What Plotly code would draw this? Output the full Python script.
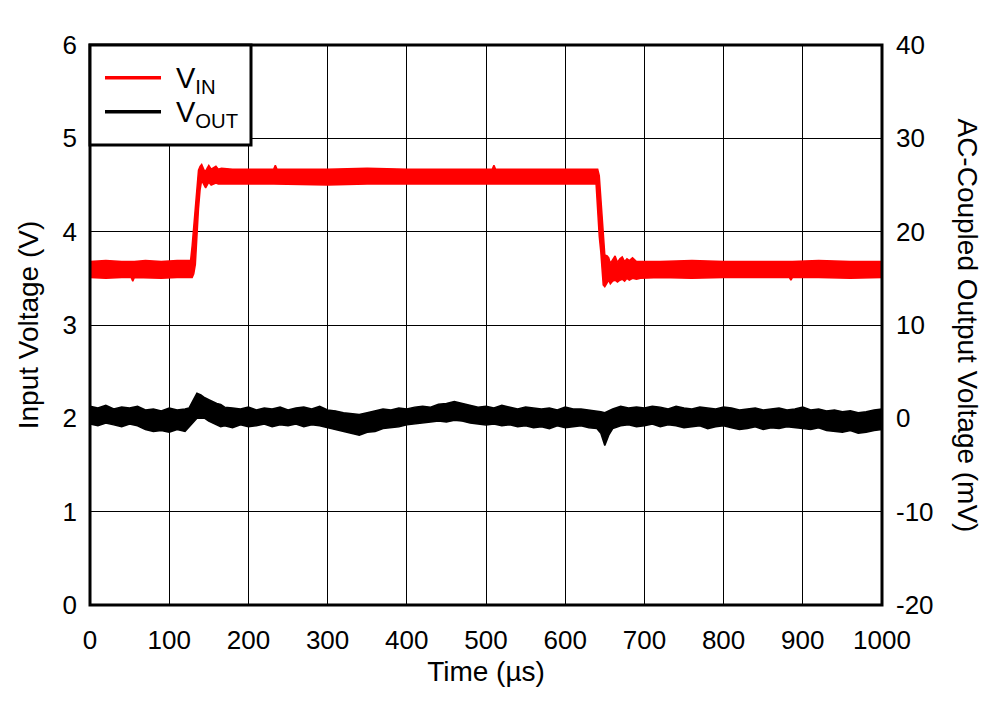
import plotly.graph_objects as go

# ---------------- data ----------------
# Input voltage (V): envelope of the noisy trace
vin_t = [0, 20, 40, 52, 54, 56, 70, 90, 110, 127, 129, 131, 133, 135, 137, 139, 141,
         144, 146, 148, 150, 153, 156, 159, 162, 166, 180, 200, 232, 234, 236, 260,
         300, 350, 400, 450, 508, 510, 512, 560, 600, 639, 641, 643, 645, 647, 648,
         650, 653, 655, 657, 660, 663, 666, 669, 672, 675, 678, 681, 685, 690, 695,
         720, 760, 800, 850, 883, 885, 887, 920, 960, 1000]
vin_hi = [3.68, 3.69, 3.68, 3.68, 3.68, 3.68, 3.69, 3.68, 3.69, 3.69, 3.85, 4.05, 4.30, 4.50, 4.66, 4.70, 4.72,
          4.66, 4.65, 4.68, 4.71, 4.67, 4.69, 4.70, 4.67, 4.68, 4.67, 4.67, 4.67, 4.71, 4.67, 4.67,
          4.67, 4.68, 4.67, 4.67, 4.67, 4.71, 4.67, 4.67, 4.67, 4.67, 4.67, 4.60, 4.35, 4.05, 3.90,
          3.75, 3.74, 3.72, 3.66, 3.70, 3.74, 3.67, 3.71, 3.73, 3.68, 3.71, 3.69, 3.72, 3.68, 3.68,
          3.68, 3.69, 3.68, 3.68, 3.68, 3.68, 3.68, 3.69, 3.68, 3.68]
vin_lo = [3.51, 3.50, 3.51, 3.51, 3.47, 3.51, 3.51, 3.50, 3.51, 3.51, 3.51, 3.55, 3.65, 3.95, 4.25, 4.45, 4.55,
          4.50, 4.47, 4.50, 4.53, 4.50, 4.51, 4.52, 4.51, 4.51, 4.51, 4.51, 4.51, 4.51, 4.51, 4.51,
          4.50, 4.51, 4.51, 4.51, 4.51, 4.51, 4.51, 4.51, 4.51, 4.51, 4.20, 3.95, 3.78, 3.60, 3.43,
          3.41, 3.45, 3.48, 3.44, 3.47, 3.48, 3.46, 3.48, 3.49, 3.47, 3.50, 3.48, 3.50, 3.49, 3.50,
          3.51, 3.50, 3.51, 3.51, 3.51, 3.48, 3.51, 3.51, 3.50, 3.51]

# AC-coupled output voltage (mV): envelope of the noisy trace
vout_t = [0, 10, 20, 30, 40, 50, 60, 70, 80, 90, 100, 110, 120, 125, 130, 135, 140, 145,
          150, 155, 160, 165, 170, 180, 190, 200, 210, 220, 230, 240, 250, 260, 270, 280,
          290, 300, 310, 320, 330, 340, 350, 360, 370, 380, 390, 400, 410, 420, 430, 440,
          450, 460, 470, 480, 490, 500, 510, 520, 530, 540, 550, 560, 570, 580, 590, 600,
          610, 620, 630, 640, 645, 650, 655, 660, 670, 680, 690, 700, 710, 720, 730, 740,
          750, 760, 770, 780, 790, 800, 810, 820, 830, 840, 850, 860, 870, 880, 890, 900,
          910, 920, 930, 940, 950, 960, 970, 980, 990, 1000]
vout_hi = [1.3, 1.1, 1.4, 1.0, 1.2, 1.1, 1.3, 0.9, 1.0, 0.8, 1.1, 0.9, 1.0, 1.1, 1.9, 2.7, 2.5, 2.2,
           2.0, 1.8, 1.6, 1.5, 1.2, 1.1, 1.0, 1.2, 0.9, 1.1, 1.0, 1.2, 0.9, 1.1, 1.2, 1.0,
           1.3, 0.9, 0.8, 0.6, 0.5, 0.4, 0.6, 0.8, 1.0, 0.9, 1.1, 1.0, 1.2, 1.3, 1.2, 1.5,
           1.6, 1.8, 1.6, 1.4, 1.2, 1.3, 1.1, 1.4, 1.2, 1.0, 1.2, 1.1, 1.0, 1.1, 0.9, 1.2,
           1.0, 1.0, 0.9, 0.8, 0.7, 0.6, 0.8, 1.0, 1.3, 1.1, 1.2, 1.1, 1.3, 1.2, 1.0, 1.3,
           1.1, 1.0, 1.2, 1.1, 1.0, 1.2, 1.1, 0.9, 1.0, 1.1, 0.9, 1.0, 1.1, 0.9, 1.0, 1.2,
           0.9, 1.0, 0.8, 0.9, 0.7, 0.8, 0.6, 0.7, 0.9, 1.0]
vout_lo = [-0.6, -0.8, -0.5, -0.7, -0.9, -0.6, -0.8, -1.2, -1.4, -1.3, -1.5, -1.2, -1.4, -1.0, -0.5, 0.0, 0.1, 0.0,
           -0.3, -0.5, -0.7, -0.9, -0.8, -1.0, -0.7, -0.9, -0.8, -0.6, -0.9, -0.7, -0.8, -0.6, -0.9, -0.7,
           -0.8, -1.0, -1.2, -1.4, -1.6, -1.8, -1.5, -1.4, -1.1, -1.0, -0.9, -0.7, -0.6, -0.5, -0.4, -0.3,
           -0.4, -0.2, -0.3, -0.5, -0.6, -0.7, -0.6, -0.8, -0.7, -0.9, -0.8, -1.0, -0.9, -1.1, -0.8, -1.0,
           -0.9, -0.8, -1.0, -1.1, -1.6, -2.9, -1.8, -1.1, -0.8, -0.7, -0.9, -0.8, -0.6, -0.9, -0.7, -0.8,
           -1.0, -0.9, -0.8, -1.1, -0.9, -0.8, -1.0, -1.2, -1.1, -0.9, -1.2, -1.0, -1.1, -0.9, -1.0, -1.1,
           -1.2, -1.0, -1.3, -1.4, -1.5, -1.3, -1.6, -1.5, -1.3, -1.2]

x_ticks = [0, 100, 200, 300, 400, 500, 600, 700, 800, 900, 1000]
y1_ticks = [0, 1, 2, 3, 4, 5, 6]
y2_ticks = [-20, -10, 0, 10, 20, 30, 40]

FONT = "Liberation Sans, Arial, sans-serif"
FS = 26      # tick labels
FT = 28      # axis titles
FL = 29      # legend text

fig = go.Figure()

fig.add_trace(go.Scatter(
    x=vin_t + vin_t[::-1], y=vin_hi + vin_lo[::-1],
    fill="toself", fillcolor="#ff0000", mode="lines",
    line=dict(color="#ff0000", width=1.5), name="V<sub>IN</sub>",
    showlegend=False, hoverinfo="skip"))

fig.add_trace(go.Scatter(
    x=vout_t + vout_t[::-1], y=vout_hi + vout_lo[::-1],
    fill="toself", fillcolor="#000000", mode="lines",
    line=dict(color="#000000", width=1.5), name="V<sub>OUT</sub>",
    yaxis="y2", showlegend=False, hoverinfo="skip"))

fig.update_layout(
    width=990, height=693,
    margin=dict(l=82, r=116, t=37, b=96),
    paper_bgcolor="white", plot_bgcolor="white",
    font=dict(family=FONT, size=FS, color="black"),
    showlegend=False,
    xaxis=dict(
        range=[0, 1000], tickvals=x_ticks, ticktext=[str(v) for v in x_ticks],
        showgrid=True, gridcolor="black", gridwidth=1, zeroline=False,
        ticks="", ticklabelstandoff=17,
        title=dict(text="Time (µs)", font=dict(size=FT), standoff=7),
    ),
    yaxis=dict(
        range=[0, 6], tickvals=y1_ticks, ticktext=[str(v) for v in y1_ticks],
        showgrid=True, gridcolor="black", gridwidth=1, zeroline=False,
        ticks="", ticklabelstandoff=12,
        title=dict(text="Input Voltage (V)", font=dict(size=FT), standoff=15),
    ),
    yaxis2=dict(
        range=[-20, 40], tickvals=y2_ticks, ticktext=[str(v) for v in y2_ticks],
        overlaying="y", side="right", showgrid=False, zeroline=False,
        ticks="", ticklabelstandoff=13,
    ),
)

# plot frame
fig.add_shape(type="rect", xref="paper", yref="paper", x0=0, x1=1, y0=0, y1=1,
              line=dict(color="black", width=3), layer="above")

# right axis title (reads top to bottom)
fig.add_annotation(xref="paper", yref="paper", x=1.108, y=0.5,
                   text="AC-Coupled Output Voltage (mV)", textangle=90,
                   showarrow=False, font=dict(size=FT), xanchor="center", yanchor="middle")

# legend box
def px_x(p):
    return (p - 90) / 792.0

def px_y(p):
    return (605 - p) / 560.0

fig.add_shape(type="rect", xref="paper", yref="paper",
              x0=0, x1=px_x(251), y0=px_y(145), y1=1,
              line=dict(color="black", width=3), fillcolor="white", layer="above")
for name, color, py in [("V<sub>IN</sub>", "#ff0000", 77.7), ("V<sub>OUT</sub>", "#000000", 111.7)]:
    fig.add_shape(type="line", xref="paper", yref="paper",
                  x0=px_x(105), x1=px_x(161), y0=px_y(py), y1=px_y(py),
                  line=dict(color=color, width=3.5), layer="above")
    fig.add_annotation(xref="paper", yref="paper", x=px_x(174), y=px_y(py + 2),
                       text=name, showarrow=False, xanchor="left", yanchor="middle",
                       font=dict(size=FL))

fig.write_html("out.html")
